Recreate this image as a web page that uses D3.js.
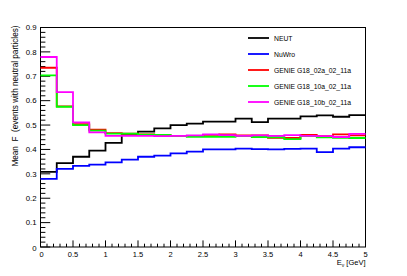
<!DOCTYPE html>
<html><head><meta charset="utf-8">
<script src="https://cdn.jsdelivr.net/npm/d3@7"></script>
<style>body{margin:0;background:#fff}svg{display:block}text{font-family:"Liberation Sans",Arial,sans-serif}</style>
</head><body>
<script>
const binEdges = d3.range(0, 5.0001, 0.25);
const seriesNames = ["NEUT", "NuWro", "GENIE G18_02a_02_11a", "GENIE G18_10a_02_11a", "GENIE G18_10b_02_11a"];
const seriesColors = ["#000000", "#0000ff", "#ff0000", "#00ff00", "#ff00ff"];
const neut = [0.308,0.344,0.370,0.395,0.427,0.459,0.473,0.486,0.500,0.506,0.514,0.514,0.526,0.512,0.526,0.526,0.536,0.540,0.534,0.541];
const nuwro = [0.279,0.320,0.333,0.338,0.347,0.358,0.370,0.375,0.384,0.391,0.400,0.400,0.403,0.401,0.400,0.402,0.403,0.389,0.403,0.409];
const genie02a = [0.735,0.577,0.504,0.481,0.467,0.465,0.462,0.460,0.456,0.456,0.460,0.462,0.458,0.458,0.448,0.447,0.460,0.455,0.462,0.458];
const genie10a = [0.704,0.575,0.500,0.477,0.465,0.465,0.461,0.460,0.456,0.452,0.452,0.452,0.455,0.451,0.450,0.442,0.455,0.450,0.448,0.447];
const genie10b = [0.779,0.635,0.511,0.470,0.456,0.456,0.456,0.455,0.456,0.458,0.462,0.459,0.456,0.458,0.456,0.459,0.456,0.455,0.451,0.464];
const xTickLabels = ["0","0.5","1","1.5","2","2.5","3","3.5","4","4.5","5"];
const yTickLabels = ["0","0.1","0.2","0.3","0.4","0.5","0.6","0.7","0.8","0.9"];
const allSeries = [neut, nuwro, genie02a, genie10a, genie10b];

const W = 407, H = 276;
const L = 40.5, R = 365.5, T = 27.5, B = 247;
const svg = d3.select("body").append("svg").attr("width", W).attr("height", H);
const x = d3.scaleLinear().domain([0, 5]).range([L, R]);
const y = d3.scaleLinear().domain([0, 0.9]).range([B, T]);

// frame
svg.append("rect").attr("x", L).attr("y", T).attr("width", R - L).attr("height", B - T)
  .attr("fill", "none").attr("stroke", "#000").attr("stroke-width", 1);

// x axis ticks
const gx = svg.append("g");
d3.range(0, 51).forEach(i => {
  const v = i / 10, major = i % 5 === 0;
  gx.append("line").attr("x1", x(v)).attr("x2", x(v)).attr("y1", B).attr("y2", B - (major ? 6.6 : 3.3))
    .attr("stroke", "#000").attr("stroke-width", 1);
});
xTickLabels.forEach((t, i) => {
  gx.append("text").attr("x", x(+t) + (i === 0 ? 1 : 0)).attr("y", 257).attr("text-anchor", "middle")
    .attr("font-size", 7.5).text(t);
});
// y axis ticks
const gy = svg.append("g");
d3.range(0, 46).forEach(i => {
  const v = i * 0.02, major = i % 5 === 0;
  gy.append("line").attr("x1", L).attr("x2", L + (major ? 9.75 : 4.9)).attr("y1", y(v)).attr("y2", y(v))
    .attr("stroke", "#000").attr("stroke-width", 1);
});
yTickLabels.forEach(t => {
  gy.append("text").attr("x", 36.5).attr("y", y(+t) + 2.7 + (t === "0" ? 1.5 : 0)).attr("text-anchor", "end")
    .attr("font-size", 7.8).text(t);
});

// axis titles
const xt = svg.append("text").attr("x", R).attr("y", 265).attr("text-anchor", "end").attr("font-size", 7.5);
xt.append("tspan").text("E");
xt.append("tspan").attr("font-size", 5).attr("dy", 1.5).text("ν");
xt.append("tspan").attr("dy", -1.5).text(" [GeV]");
svg.append("text").attr("transform", `translate(17.5,${T - 2}) rotate(-90)`).attr("text-anchor", "end")
  .attr("font-size", 8.2).attr("xml:space", "preserve").text("Mean  F  (events with neutral particles)");

// histograms
const hg = svg.append("g");
allSeries.forEach((vals, si) => {
  const pts = [];
  vals.forEach((v, i) => { pts.push([binEdges[i], v]); pts.push([binEdges[i + 1], v]); });
  const line = d3.line().x(d => x(d[0])).y(d => y(d[1]));
  hg.append("path").attr("d", line(pts)).attr("fill", "none").attr("stroke", seriesColors[si])
    .attr("stroke-width", 1.8);
});

// legend
const lg = svg.append("g");
const rows = [38, 54, 70, 86, 102];
seriesNames.forEach((n, i) => {
  lg.append("line").attr("x1", 248).attr("x2", 269).attr("y1", rows[i]).attr("y2", rows[i])
    .attr("stroke", seriesColors[i]).attr("stroke-width", 1.8);
  lg.append("text").attr("x", 274).attr("y", rows[i] + 2.5).attr("font-size", 6.8).text(n);
});
</script>
</body></html>
